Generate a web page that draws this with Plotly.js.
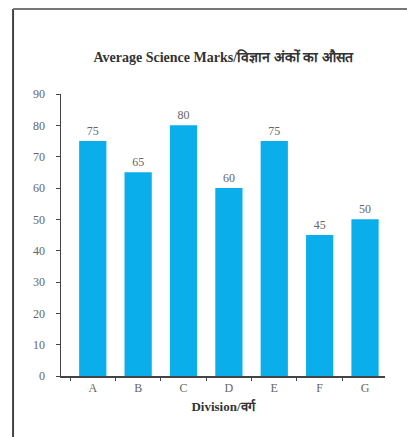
<!DOCTYPE html>
<html>
<head>
<meta charset="utf-8">
<script src="https://cdn.plot.ly/plotly-3.0.1.min.js"></script>
<style>html,body{margin:0;padding:0;background:#fff;}#chart{width:407px;height:437px;}</style>
</head>
<body>
<div id="chart"></div>
<script>
const divisions = ["A", "B", "C", "D", "E", "F", "G"];
const marks = [75, 65, 80, 60, 75, 45, 50];
const yTicks = [0, 10, 20, 30, 40, 50, 60, 70, 80, 90];
const chartTitle = "Average Science Marks/विज्ञान अंकों का औसत";
const xTitle = "Division/वर्ग";

const serif = "Liberation Serif, Times New Roman, serif";

Plotly.newPlot("chart", [{
  type: "bar",
  x: divisions,
  y: marks,
  width: 0.6,
  marker: {color: "#0AAEEA"},
  text: marks.map(String),
  textposition: "outside",
  cliponaxis: false,
  textfont: {family: serif, size: 12, color: "#666"},
  hoverinfo: "none"
}], {
  width: 407, height: 437,
  margin: {l: 61, r: 22, t: 94, b: 61},
  paper_bgcolor: "#fff", plot_bgcolor: "#fff",
  showlegend: false,
  bargap: 0.4,
  title: {
    text: "<b>" + chartTitle + "</b>",
    font: {family: serif, size: 14, color: "#333"},
    xref: "paper", x: 0.5, xanchor: "center",
    yref: "container", y: 1 - 57/437, yanchor: "middle"
  },
  xaxis: {
    type: "category",
    range: [-0.7, 6.44],
    showline: true, linecolor: "#444", linewidth: 1.5,
    ticks: "outside", ticklen: 3, tickcolor: "#444",
    tickson: "boundaries",
    showgrid: false, zeroline: false,
    tickfont: {family: serif, size: 12, color: "#666"},
    title: {text: "<b>" + xTitle + "</b>", font: {family: serif, size: 13, color: "#333"}, standoff: 8}
  },
  yaxis: {
    range: [0, 90],
    tickvals: yTicks,
    showline: true, linecolor: "#444", linewidth: 1.5,
    ticks: "outside", ticklen: 4, tickcolor: "#444",
    ticklabelstandoff: 8,
    showgrid: false, zeroline: false,
    tickfont: {family: serif, size: 12, color: "#666"}
  },
  shapes: [
    {type: "line", xref: "paper", yref: "paper", x0: -0.148, x1: -0.148, y0: 1.301, y1: -0.22, line: {color: "#444", width: 2}},
    {type: "line", xref: "paper", yref: "paper", x0: -0.148, x1: 1.07, y0: 1.301, y1: 1.301, line: {color: "#777", width: 2}}
  ]
}, {displayModeBar: false, staticPlot: true});
</script>
</body>
</html>
